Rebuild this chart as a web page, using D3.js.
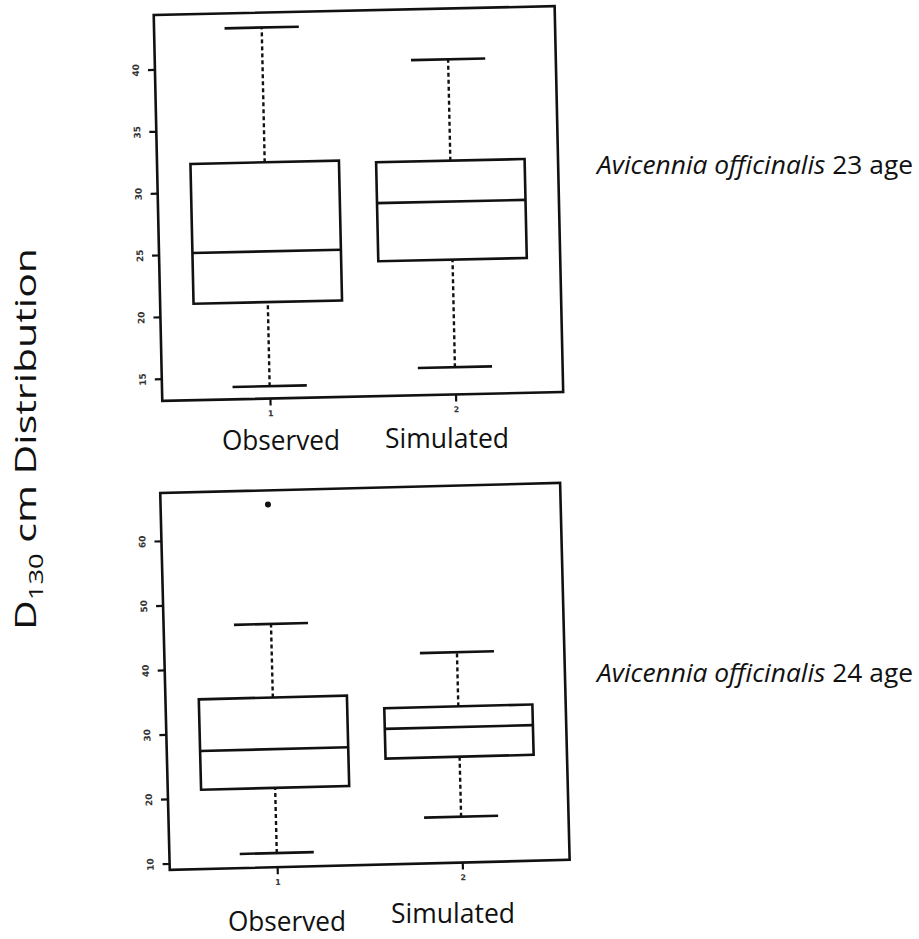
<!DOCTYPE html>
<html>
<head>
<meta charset="utf-8">
<script src="https://cdn.jsdelivr.net/npm/d3@7"></script>
<style>
  body { margin: 0; background: #fff; }
  svg { display: block; }
</style>
</head>
<body>
<div id="chart"></div>
<script>
// categories and values (min, q1, median, q3, max)
const groups = ["Observed", "Simulated"];
const groupPos = [1, 2];
const age23Stats = [[14.2, 21.0, 25.1, 32.3, 43.2], [15.4, 24.1, 28.8, 32.1, 40.3]];
const age24Stats = [[11.2, 21.3, 27.3, 35.3, 46.7], [16.1, 25.4, 30.0, 33.2, 41.6]];
const age23Outliers = [];
const age24Outliers = [{ pos: 1, value: 65.2 }];
const age23Ticks = [15, 20, 25, 30, 35, 40];
const age24Ticks = [10, 20, 30, 40, 50, 60];
const panelAges = ["23", "24"];

const W = 919, H = 939;
const ink = "#111";

const svg = d3.select("#chart")
  .append("svg")
    .attr("width", W)
    .attr("height", H);

svg.append("rect").attr("width", W).attr("height", H).attr("fill", "#fff");

// layout of the two scanned panels (slightly tilted)
const panels = [
  { stats: age23Stats, outliers: age23Outliers, ticks: age23Ticks, age: panelAges[0],
    left: 158, right: 559, top: 15, bottom: 401, angle: -1.27, domain: [13.2, 44.4],
    labelY: [450, 448], labelX: [281, 447], ageY: 174 },
  { stats: age24Stats, outliers: age24Outliers, ticks: age24Ticks, age: panelAges[1],
    left: 165, right: 565, top: 493, bottom: 870, angle: -1.45, domain: [9.0, 67.4],
    labelY: [931, 923], labelX: [287, 453], ageY: 682 }
];

panels.forEach(p => drawPanel(p));

function drawPanel(p) {
  const pivotY = (p.top + p.bottom) / 2;
  const g = svg.append("g")
    .attr("transform", `rotate(${p.angle},${p.left},${pivotY})`);

  const x = d3.scaleLinear().domain([0.42, 2.58]).range([p.left, p.right]);
  const y = d3.scaleLinear().domain(p.domain).range([p.bottom, p.top]);
  const unit = x(2) - x(1);

  // frame
  g.append("rect")
    .attr("x", p.left).attr("y", p.top)
    .attr("width", p.right - p.left).attr("height", p.bottom - p.top)
    .attr("fill", "none").attr("stroke", ink).attr("stroke-width", 2.6);

  // y axis
  const ya = g.append("g")
    .attr("transform", `translate(${p.left},0)`)
    .call(d3.axisLeft(y).tickValues(p.ticks).tickSize(7).tickFormat(d3.format("d")));
  ya.select(".domain").remove();
  ya.selectAll(".tick line").attr("stroke", ink).attr("stroke-width", 2.2);
  ya.selectAll(".tick text")
    .attr("x", 0).attr("dy", 0).attr("y", -16)
    .attr("transform", "rotate(-90)")
    .attr("text-anchor", "middle")
    .attr("font-family", "DejaVu Sans")
    .attr("font-weight", "bold")
    .attr("font-size", 9)
    .attr("fill", "#333");

  // x axis
  const xa = g.append("g")
    .attr("transform", `translate(0,${p.bottom})`)
    .call(d3.axisBottom(x).tickValues(groupPos).tickSize(7).tickPadding(5).tickFormat(d3.format("d")));
  xa.select(".domain").remove();
  xa.selectAll(".tick line").attr("stroke", ink).attr("stroke-width", 2.2);
  xa.selectAll(".tick text")
    .attr("font-family", "DejaVu Sans")
    .attr("font-weight", "bold")
    .attr("font-size", 8)
    .attr("fill", "#333");

  const boxes = g.selectAll(".box")
    .data(p.stats)
    .join("g")
      .attr("class", "box");

  // whiskers
  boxes.append("line")
    .attr("x1", (d, i) => x(groupPos[i])).attr("x2", (d, i) => x(groupPos[i]))
    .attr("y1", d => y(d[3])).attr("y2", d => y(d[4]))
    .attr("stroke", ink).attr("stroke-width", 2.4).attr("stroke-dasharray", "4,3");
  boxes.append("line")
    .attr("x1", (d, i) => x(groupPos[i])).attr("x2", (d, i) => x(groupPos[i]))
    .attr("y1", d => y(d[0])).attr("y2", d => y(d[1]))
    .attr("stroke", ink).attr("stroke-width", 2.4).attr("stroke-dasharray", "4,3");

  // caps
  [0, 4].forEach(k => {
    boxes.append("line")
      .attr("x1", (d, i) => x(groupPos[i]) - unit * 0.2)
      .attr("x2", (d, i) => x(groupPos[i]) + unit * 0.2)
      .attr("y1", d => y(d[k])).attr("y2", d => y(d[k]))
      .attr("stroke", ink).attr("stroke-width", 2.6);
  });

  // box
  boxes.append("rect")
    .attr("x", (d, i) => x(groupPos[i]) - unit * 0.4)
    .attr("width", unit * 0.8)
    .attr("y", d => y(d[3]))
    .attr("height", d => y(d[1]) - y(d[3]))
    .attr("fill", "#fff").attr("stroke", ink).attr("stroke-width", 2.6);

  // median
  boxes.append("line")
    .attr("x1", (d, i) => x(groupPos[i]) - unit * 0.4)
    .attr("x2", (d, i) => x(groupPos[i]) + unit * 0.4)
    .attr("y1", d => y(d[2])).attr("y2", d => y(d[2]))
    .attr("stroke", ink).attr("stroke-width", 2.6);

  // outliers
  g.selectAll(".out")
    .data(p.outliers)
    .join("circle")
      .attr("class", "out")
      .attr("cx", d => x(d.pos))
      .attr("cy", d => y(d.value))
      .attr("r", 3)
      .attr("fill", ink);

  // group names under each box
  groups.forEach((name, i) => {
    svg.append("text")
      .attr("x", p.labelX[i])
      .attr("y", p.labelY[i])
      .attr("text-anchor", "middle")
      .attr("font-family", "Open Sans")
      .attr("font-size", 28)
      .attr("textLength", i === 0 ? 118 : 124)
      .attr("lengthAdjust", "spacingAndGlyphs")
      .attr("fill", ink)
      .text(name);
  });

  // species label on the right
  const t = svg.append("text")
    .attr("x", 597)
    .attr("y", p.ageY)
    .attr("font-family", "Open Sans")
    .attr("font-size", 25)
    .attr("textLength", 316)
    .attr("lengthAdjust", "spacingAndGlyphs")
    .attr("fill", ink);
  t.append("tspan").attr("font-style", "italic").text("Avicennia officinalis");
  t.append("tspan").text(` ${p.age} age`);
}

// y title
const yt = svg.append("text")
  .attr("transform", "translate(36,439) rotate(-90)")
  .attr("text-anchor", "middle")
  .attr("font-family", "Open Sans")
  .attr("font-size", 30)
  .attr("textLength", 382)
  .attr("lengthAdjust", "spacingAndGlyphs")
  .attr("fill", ink);
yt.append("tspan").text("D");
yt.append("tspan").attr("font-size", 20).attr("dy", 7).text("130");
yt.append("tspan").attr("dy", -7).text(" cm Distribution");
</script>
</body>
</html>
